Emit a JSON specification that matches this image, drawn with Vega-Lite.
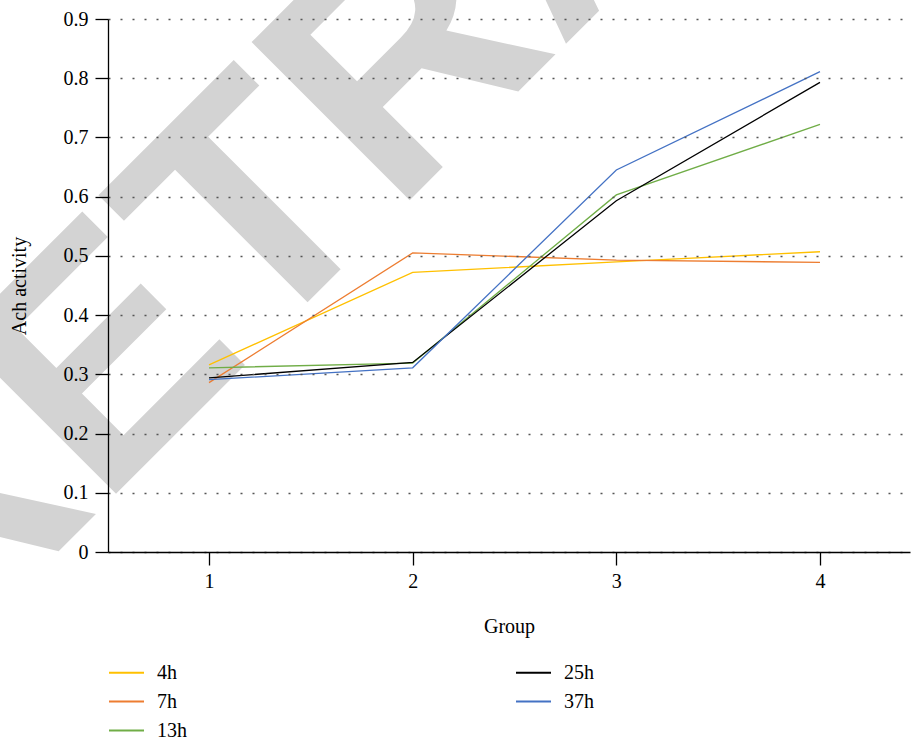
{
  "$schema": "https://vega.github.io/schema/vega-lite/v6.json",
  "width": 802,
  "height": 533,
  "autosize": {"type": "none"},
  "padding": {"left": 108, "top": 19, "right": 3, "bottom": 186},
  "background": "white",
  "config": {"view": {"stroke": null}, "font": "Liberation Serif"},
  "encoding": {
    "x": {
      "field": "x", "type": "quantitative",
      "scale": {"domain": [0.504, 4.442], "nice": false, "zero": false},
      "axis": {
        "values": [1, 2, 3, 4], "format": "d", "title": "Group", "grid": false,
        "tickSize": 13, "tickColor": "black", "tickWidth": 1.3,
        "domainColor": "black", "domainWidth": 1.3,
        "labelFont": "Liberation Serif", "labelFontSize": 20, "labelColor": "black", "labelPadding": 6,
        "titleFont": "Liberation Serif", "titleFontSize": 20, "titleFontWeight": "normal", "titleColor": "black", "titlePadding": 25,
        "zindex": 1
      }
    },
    "y": {
      "field": "y", "type": "quantitative",
      "scale": {"domain": [0, 0.9], "nice": false, "zero": false},
      "axis": {
        "values": [0, 0.1, 0.2, 0.3, 0.4, 0.5, 0.6, 0.7, 0.8, 0.9], "format": ".1~f", "title": "Ach activity",
        "grid": true, "gridDash": [2, 10], "gridColor": "#555555", "gridWidth": 1.5,
        "tickSize": 13, "tickColor": "black", "tickWidth": 1.3,
        "domainColor": "black", "domainWidth": 1.3,
        "labelFont": "Liberation Serif", "labelFontSize": 20, "labelColor": "black", "labelPadding": 7,
        "titleFont": "Liberation Serif", "titleFontSize": 20, "titleFontWeight": "normal", "titleColor": "black", "titlePadding": 34,
        "zindex": 1
      }
    }
  },
  "layer": [
    {
      "data": {"values": [{"x": 2.792, "y": 1.1055, "t": "RETRACTED"}]},
      "mark": {"type": "text", "angle": 315, "fontSize": 325, "font": "Liberation Sans", "fontWeight": "bold", "color": "#d3d3d3", "align": "center", "baseline": "middle"},
      "encoding": {"text": {"field": "t"}}
    },
    {
      "data": {"values": [
        {"x": 1, "y": 0.316, "s": "4h"}, {"x": 2, "y": 0.472, "s": "4h"}, {"x": 3, "y": 0.490, "s": "4h"}, {"x": 4, "y": 0.507, "s": "4h"},
        {"x": 1, "y": 0.286, "s": "7h"}, {"x": 2, "y": 0.505, "s": "7h"}, {"x": 3, "y": 0.493, "s": "7h"}, {"x": 4, "y": 0.489, "s": "7h"},
        {"x": 1, "y": 0.311, "s": "13h"}, {"x": 2, "y": 0.319, "s": "13h"}, {"x": 3, "y": 0.603, "s": "13h"}, {"x": 4, "y": 0.722, "s": "13h"},
        {"x": 1, "y": 0.294, "s": "25h"}, {"x": 2, "y": 0.320, "s": "25h"}, {"x": 3, "y": 0.593, "s": "25h"}, {"x": 4, "y": 0.793, "s": "25h"},
        {"x": 1, "y": 0.291, "s": "37h"}, {"x": 2, "y": 0.311, "s": "37h"}, {"x": 3, "y": 0.645, "s": "37h"}, {"x": 4, "y": 0.811, "s": "37h"}
      ]},
      "mark": {"type": "line", "strokeWidth": 1.3},
      "encoding": {
        "color": {
          "field": "s", "type": "nominal",
          "scale": {"domain": ["4h", "7h", "13h", "25h", "37h"], "range": ["#FFC000", "#ED7D31", "#70AD47", "#000000", "#4472C4"]},
          "legend": {
            "title": null, "orient": "none", "legendX": 0, "legendY": 635, "columns": 2,
            "columnPadding": 325, "rowPadding": -11, "symbolType": "stroke", "symbolSize": 1225,
            "symbolStrokeWidth": 2, "labelFont": "Liberation Serif", "labelFontSize": 20,
            "labelColor": "black", "labelOffset": 12
          }
        }
      }
    }
  ]
}
